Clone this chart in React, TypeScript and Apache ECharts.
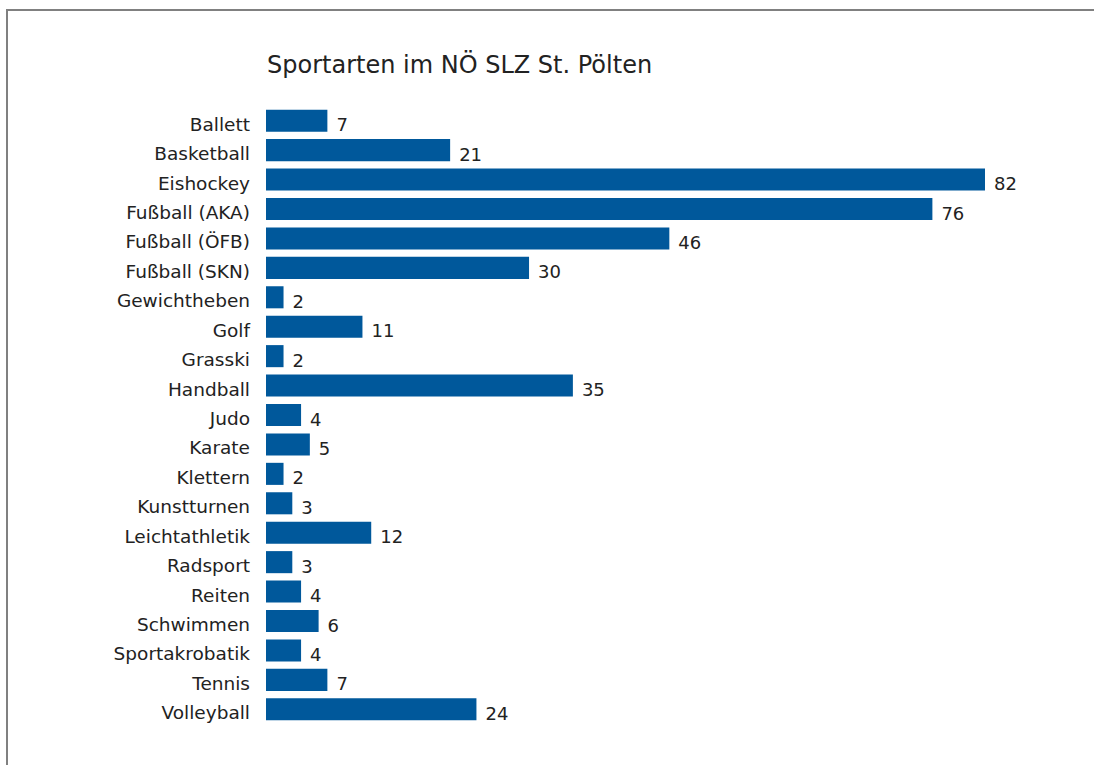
import React, { useEffect, useRef } from "react";
import * as echarts from "echarts";

const categories = [
  "Ballett", "Basketball", "Eishockey", "Fußball (AKA)", "Fußball (ÖFB)", "Fußball (SKN)",
  "Gewichtheben", "Golf", "Grasski", "Handball", "Judo", "Karate", "Klettern", "Kunstturnen",
  "Leichtathletik", "Radsport", "Reiten", "Schwimmen", "Sportakrobatik", "Tennis", "Volleyball",
];
const values = [7, 21, 82, 76, 46, 30, 2, 11, 2, 35, 4, 5, 2, 3, 12, 3, 4, 6, 4, 7, 24];
const title = "Sportarten im NÖ SLZ St. Pölten";

const FONT = "'DejaVu Sans', sans-serif";

export default function App() {
  const ref = useRef<HTMLDivElement>(null);
  useEffect(() => {
    if (!ref.current) return;
    const chart = echarts.init(ref.current, undefined, { renderer: "svg" });
    chart.setOption({
      animation: false,
      backgroundColor: "#ffffff",
      title: {
        text: title,
        left: 262,
        top: 48,
        textStyle: { fontFamily: FONT, fontSize: 24, fontWeight: "normal", color: "#222222" },
      },
      graphic: [
        {
          type: "polyline",
          shape: { points: [[7, 770], [7, 10], [1100, 10]] },
          style: { stroke: "#808080", lineWidth: 2, fill: "none" },
          silent: true,
        },
      ],
      grid: { left: 266, right: 109, top: 106, bottom: 41, containLabel: false },
      xAxis: {
        type: "value",
        min: 0,
        max: 82,
        show: false,
      },
      yAxis: {
        type: "category",
        data: categories,
        inverse: true,
        axisLine: { show: false },
        axisTick: { show: false },
        axisLabel: {
          margin: 16,
          fontFamily: FONT,
          fontSize: 18.5,
          color: "#222222",
          verticalAlign: "top",
          lineHeight: 7,
        },
      },
      series: [
        {
          type: "bar",
          data: values,
          barCategoryGap: "25%",
          itemStyle: { color: "#00589b" },
          label: {
            show: true,
            position: "right",
            distance: 9,
            offset: [0, 4],
            fontFamily: FONT,
            fontSize: 18,
            color: "#222222",
          },
        },
      ],
    });
    return () => chart.dispose();
  }, []);
  return (
    <div style={{ position: "fixed", left: 0, top: 0, width: 1094, height: 765, overflow: "hidden", background: "#fff" }}>
      <div ref={ref} style={{ width: 1094, height: 765 }} />
    </div>
  );
}
